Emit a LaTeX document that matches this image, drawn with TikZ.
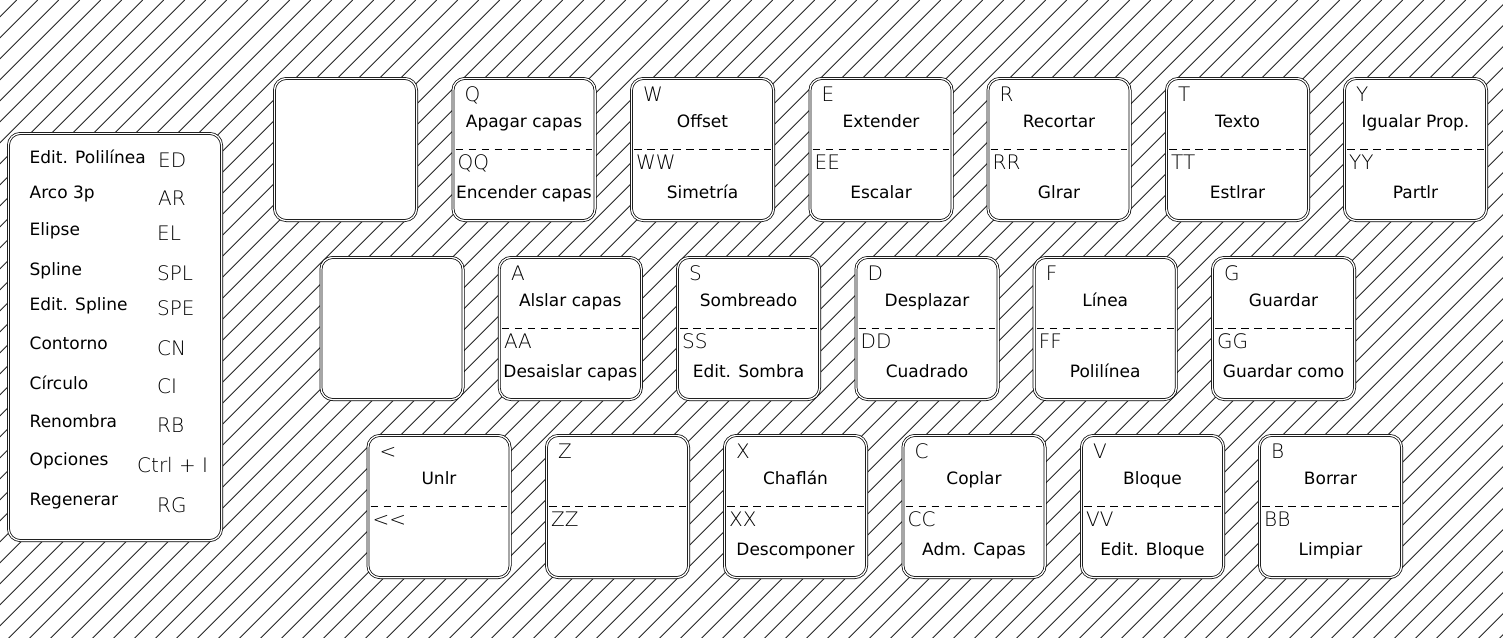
\documentclass[tikz,border=0pt]{standalone}
\usepackage{fontspec}
\setmainfont{DejaVu Sans}
\newfontfamily\cadfont{DejaVu Sans ExtraLight}
\tikzset{
  keybox/.style={draw=black, double=white, double distance=1.3pt, line width=0.75pt,
    rounded corners=12pt, fill=white, minimum width=142.2pt, minimum height=142.2pt, inner sep=0pt},
  panelbox/.style={keybox, minimum width=213.2pt, minimum height=407.2pt},
  lbl/.style={inner sep=0pt, font=\fontsize{17}{20}\selectfont},
  code/.style={inner sep=0pt, text=black, font=\cadfont\fontsize{20}{23}\selectfont},
  dashline/.style={line width=0.9pt, dash pattern=on 7.5pt off 5.5pt},
  hatch/.style={line width=0.9pt, black!85},
}
\newcommand\drawkey[7]{%
  \node[keybox] (#1) at ({#2+72.5},{#3+72.5}) {};
  \node[code, anchor=base west] (#1-k) at ({#2+13},{#3+24}) {#4};
  \node[lbl, anchor=base] (#1-a) at ({#2+72.5},{#3+50}) {#5};
  \draw[dashline] ([xshift=3pt]#1.west) -- ([xshift=-3pt]#1.east);
  \node[code, anchor=base west] (#1-kk) at ({#2+6},{#3+92}) {#6};
  \node[lbl, anchor=base] (#1-b) at ({#2+72.5},{#3+121}) {#7};
}
\begin{document}
\begin{tikzpicture}[x=1pt,y=-1pt]
\useasboundingbox (0,0) rectangle (1503,637);
\fill[white] (0,0) rectangle (1503,637);
\begin{scope}
  \clip (0,0) rectangle (1503,637);
  \foreach \i in {-1,...,105} {
    \draw[hatch] ({16.7+21.0*\i},0) -- ({16.7+21.0*\i-640},640);
  }
\end{scope}

% left panel
\node[panelbox] (panel) at (115,337) {};
\foreach \lab/\b/\cd/\cb/\cx [count=\n] in {
  Edit. Polilínea/163/ED/167/158,
  Arco 3p/198/AR/205/158,
  Elipse/235/EL/240/157,
  Spline/275/SPL/280/157,
  Edit. Spline/310/SPE/315/157,
  Contorno/349/CN/355/157,
  Círculo/389/CI/393/157,
  Renombra/427/RB/432/157,
  Opciones/465/Ctrl + I/472/137,
  Regenerar/505/RG/512/157} {
  \node[lbl, anchor=base west] (pl\n) at (29.5,\b) {\lab};
  \node[code, anchor=base west] (pc\n) at (\cx,\cb) {\cd};
}

% row 1
\node[keybox] (k1) at ({273+72.5},{77+72.5}) {};
\drawkey{kQ}{451.5}{77}{Q}{Apagar capas}{QQ}{Encender capas}
\drawkey{kW}{630}{77}{W}{Offset}{WW}{Simetría}
\drawkey{kE}{808.5}{77}{E}{Extender}{EE}{Escalar}
\drawkey{kR}{986.5}{77}{R}{Recortar}{RR}{Glrar}
\drawkey{kT}{1165}{77}{T}{Texto}{TT}{Estlrar}
\drawkey{kY}{1343}{77}{Y}{Igualar Prop.}{YY}{Partlr}

% row 2
\node[keybox] (k2) at ({319.5+72.5},{256+72.5}) {};
\drawkey{kA}{497.8}{256}{A}{Alslar capas}{AA}{Desaislar capas}
\drawkey{kS}{676}{256}{S}{Sombreado}{SS}{Edit. Sombra}
\drawkey{kD}{854.5}{256}{D}{Desplazar}{DD}{Cuadrado}
\drawkey{kF}{1032.7}{256}{F}{Línea}{FF}{Polilínea}
\drawkey{kG}{1211}{256}{G}{Guardar}{GG}{Guardar como}

% row 3
\node[keybox] (kLt) at ({366.5+72.5},{434+72.5}) {};
\node[code, anchor=base west] (kLt-k) at ({366.5+13},{434+24}) {<};
\node[lbl, anchor=base] (kLt-a) at ({366.5+72.5},{434+50}) {Unlr};
\draw[dashline] ([xshift=3pt]kLt.west) -- ([xshift=-3pt]kLt.east);
\node[code, anchor=base west] (kLt-kk) at ({366.5+6},{434+92}) {<<};
\node[keybox] (kZ) at ({545+72.5},{434+72.5}) {};
\node[code, anchor=base west] (kZ-k) at ({545+13},{434+24}) {Z};
\draw[dashline] ([xshift=3pt]kZ.west) -- ([xshift=-3pt]kZ.east);
\node[code, anchor=base west] (kZ-kk) at ({545+6},{434+92}) {ZZ};
\drawkey{kX}{723}{434}{X}{Chaflán}{XX}{Descomponer}
\drawkey{kC}{901.5}{434}{C}{Coplar}{CC}{Adm. Capas}
\drawkey{kV}{1080}{434}{V}{Bloque}{VV}{Edit. Bloque}
\drawkey{kB}{1258}{434}{B}{Borrar}{BB}{Limpiar}
\end{tikzpicture}
\end{document}
